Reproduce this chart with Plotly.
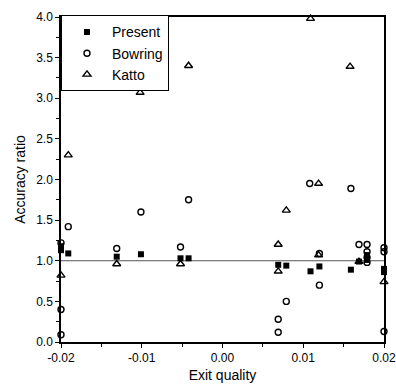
import plotly.graph_objects as go

# Present (filled squares)
present_x = [-0.020, -0.020, -0.0191, -0.0131, -0.0101, -0.0052, -0.0042, 0.0069, 0.0079,
             0.0109, 0.0120, 0.0159, 0.0169, 0.0179, 0.0179, 0.020, 0.020]
present_y = [1.18, 1.13, 1.09, 1.05, 1.08, 1.03, 1.03, 0.95, 0.94,
             0.87, 0.93, 0.89, 0.99, 1.07, 1.01, 0.90, 0.86]

# Bowring (open circles)
bowring_x = [-0.020, -0.020, -0.020, -0.0191, -0.0131, -0.0101, -0.0052, -0.0042, 0.0069, 0.0069,
             0.0079, 0.0108, 0.0120, 0.0120, 0.0159, 0.0169, 0.0179, 0.0179, 0.0179, 0.0179,
             0.020, 0.020, 0.020]
bowring_y = [1.22, 0.40, 0.09, 1.42, 1.15, 1.60, 1.17, 1.75, 0.28, 0.12,
             0.50, 1.95, 0.70, 1.09, 1.89, 1.20, 1.20, 1.11, 1.04, 0.98,
             1.16, 1.11, 0.13]

# Katto (open triangles)
katto_x = [-0.020, -0.0191, -0.0131, -0.0102, -0.0052, -0.0042, 0.0069, 0.0069, 0.0079,
           0.0109, 0.0119, 0.0119, 0.0158, 0.0169, 0.020]
katto_y = [0.82, 2.30, 0.96, 3.07, 0.96, 3.40, 1.20, 0.87, 1.62,
           3.98, 1.95, 1.07, 3.39, 0.99, 0.74]

# Reference line
ref_x = [-0.02, 0.02]
ref_y = [1.0, 1.0]

x_ticks = [-0.02, -0.01, 0.0, 0.01, 0.02]
x_tick_labels = ["-0.02", "-0.01", "0.00", "0.01", "0.02"]
y_ticks = [0.0, 0.5, 1.0, 1.5, 2.0, 2.5, 3.0, 3.5, 4.0]
y_tick_labels = ["0.0", "0.5", "1.0", "1.5", "2.0", "2.5", "3.0", "3.5", "4.0"]

FONT = "Liberation Sans, Arial, sans-serif"
TICKFONT = "Liberation Sans Narrow, Arial Narrow, Liberation Sans, sans-serif"

fig = go.Figure()
fig.add_trace(go.Scatter(x=ref_x, y=ref_y, mode="lines",
                         line=dict(color="#555555", width=1), showlegend=False,
                         hoverinfo="skip"))
fig.add_trace(go.Scatter(x=present_x, y=present_y, mode="markers", name="Present",
                         marker=dict(symbol="square", size=6, color="black"),
                         cliponaxis=False))
fig.add_trace(go.Scatter(x=bowring_x, y=bowring_y, mode="markers", name="Bowring",
                         marker=dict(symbol="circle-open", size=6, color="black",
                                     line=dict(width=1.4)),
                         cliponaxis=False))
fig.add_trace(go.Scatter(x=katto_x, y=katto_y, mode="markers", name="Katto",
                         marker=dict(symbol="triangle-up-open", size=7, color="black",
                                     line=dict(width=1.4)),
                         cliponaxis=False))

axis_common = dict(showline=True, linecolor="black", linewidth=1.5, mirror=True,
                   ticks="outside", ticklen=4, tickwidth=1.2, tickcolor="black",
                   showgrid=False, zeroline=False, automargin=False,
                   ticklabeloverflow="allow",
                   tickfont=dict(family=TICKFONT, size=12, color="black"))

fig.update_xaxes(range=[-0.02, 0.02], tickvals=x_ticks, ticktext=x_tick_labels,
                 minor=dict(ticks="outside", ticklen=3, dtick=0.005, tickcolor="black"),
                 title=dict(text="Exit quality", font=dict(family=FONT, size=14, color="black"),
                            standoff=6),
                 **axis_common)
fig.update_yaxes(range=[0, 4.0], tickvals=y_ticks, ticktext=y_tick_labels,
                 minor=dict(ticks="outside", ticklen=3, dtick=0.25, tickcolor="black"),
                 title=dict(text="Accuracy ratio", font=dict(family=FONT, size=14, color="black"),
                            standoff=7),
                 **axis_common)

fig.update_layout(
    width=396, height=385,
    margin=dict(l=61, r=12, t=17, b=43),
    plot_bgcolor="white", paper_bgcolor="white",
    showlegend=True,
    legend=dict(x=0, y=1.005, xanchor="left", yanchor="top",
                bordercolor="black", borderwidth=1, bgcolor="white",
                font=dict(family=FONT, size=14, color="black"),
                tracegroupgap=0, itemwidth=40),
)

fig.write_html("out.html", config={"displayModeBar": False},
               post_script="document.body.style.margin='0';document.body.style.overflow='hidden';")
